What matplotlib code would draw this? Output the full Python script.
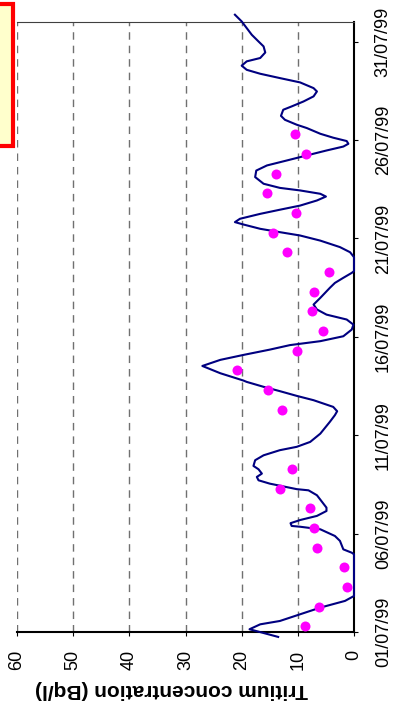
import matplotlib.pyplot as plt
import matplotlib.dates as mdates
from matplotlib.patches import Rectangle
import pandas as pd

plt.rcParams['font.family'] = ['Liberation Sans', 'DejaVu Sans']

# mesures journalieres (prelevement le matin)
sample_day = [1, 2, 3, 4, 5, 6, 7, 8, 9, 12, 13, 14, 15, 16, 17, 18, 19, 20,
              21, 22, 23, 24, 25, 26]
sample_conc = [8.8, 6.2, 1.2, 1.8, 6.5, 7.1, 7.8, 13.2, 11.1, 12.8, 15.4, 20.8,
               10.2, 5.5, 7.5, 7.2, 4.5, 11.9, 14.5, 10.4, 15.5, 13.8, 8.5, 10.5]

# courbe calculee, temps en jours depuis le 01/07/99 00:00
model_t = [-0.25, 0.14, 0.39, 0.56, 0.90, 1.24, 1.58, 1.83, 3.95, 4.03, 4.20,
           4.63, 4.88, 5.22, 5.35, 5.39, 5.53, 5.69, 5.90, 6.15, 6.32, 6.95,
           7.20, 7.26, 7.54, 7.71, 7.88, 8.05, 8.27, 8.44, 8.73, 8.98, 9.24,
           9.41, 9.66, 10.08, 10.68, 11.02, 11.22, 11.44, 11.78, 12.00, 12.24,
           12.46, 12.71, 12.78, 13.15, 13.52, 13.83, 14.08, 14.35, 14.58, 14.78,
           15.03, 15.37, 15.62, 15.88, 16.13, 16.39, 16.64, 16.98, 17.49, 17.74,
           18.00, 18.25, 18.34, 19.05, 19.30, 19.56, 19.89, 20.15, 20.32, 20.49,
           20.71, 20.83, 21.00, 21.25, 21.46, 21.67, 21.93, 22.13, 22.27, 22.44,
           22.57, 22.78, 23.12, 23.45, 23.71, 23.96, 24.22, 24.47, 24.67, 24.81,
           24.95, 25.12, 25.32, 25.61, 25.78, 26.03, 26.23, 26.54, 26.71, 26.96,
           27.22, 27.47, 27.64, 27.93, 28.15, 28.37, 28.57, 28.78, 29.00, 29.17,
           29.45, 29.76, 30.01, 30.35, 30.69, 31.03, 31.37]
model_conc = [13.5, 18.6, 16.7, 13.2, 9.6, 6.0, 1.6, 0.0, 0.0, 0.4, 1.9,
              2.5, 3.4, 6.0, 9.6, 11.1, 11.3, 9.6, 6.6, 4.9, 4.9, 6.6,
              8.1, 10.2, 15.0, 17.0, 17.3, 16.4, 17.0, 17.9, 17.6, 16.1, 13.2,
              10.2, 7.8, 6.0, 4.3, 3.4, 3.0, 3.7, 7.2, 10.2, 13.2,
              16.1, 19.1, 19.7, 23.8, 27.0, 23.8, 19.7, 15.0, 11.4, 6.0,
              1.9, 0.4, 0.1, 1.3, 4.9, 6.6, 7.2, 6.0, 4.3, 3.4,
              1.9, 0.4, 0.0, 0.0, 0.7, 2.5, 6.0, 9.6, 13.2, 16.7,
              19.7, 21.2, 20.3, 16.7, 13.2, 9.6, 6.6, 5.0, 6.0, 9.6,
              13.2, 16.1, 17.6, 17.4, 15.5, 12.0, 8.4, 4.9, 1.9, 1.0,
              1.3, 3.7, 6.0, 8.4, 10.2, 12.3, 13.0, 12.6, 11.1, 9.0,
              7.2, 6.6, 7.2, 9.6, 13.2, 16.7, 19.1, 20.0, 19.1, 16.7,
              15.8, 16.1, 17.0, 18.2, 19.1, 20.0, 21.2]

conc_ticks = [0, 10, 20, 30, 40, 50, 60]
date_ticks = [1, 6, 11, 16, 21, 26, 31]

start = pd.Timestamp('1999-07-01')
sample_time = [start + pd.Timedelta(days=d - 1, hours=7) for d in sample_day]
model_time = start + pd.to_timedelta(model_t, unit='D')

fig = plt.figure(figsize=(3.93, 7.08), dpi=100)
ax = fig.add_axes([17 / 393, 76 / 708, 337 / 393, 610 / 708])

# graphe tourne : concentration en bas (60 -> 0), dates a droite
ax.plot(model_conc, model_time, color='#000080', lw=1.5, clip_on=False, zorder=3)
ax.plot(sample_conc, sample_time, 'o', color='#FF00FF', ms=7.2, mec='none',
        zorder=4)

ax.set_xlim(60, 0)
ax.set_xticks(conc_ticks)
ax.set_ylim(start, pd.Timestamp('1999-08-01'))
ax.set_yticks([start + pd.Timedelta(days=d - 1) for d in date_ticks])
ax.yaxis.set_major_formatter(mdates.DateFormatter('%d/%m/%y'))
ax.yaxis.tick_right()

ax.xaxis.grid(True, color='#707070', lw=1.0, ls=(0, (5.4, 4.3)))
ax.yaxis.grid(False)
ax.set_axisbelow(True)

ax.tick_params(axis='x', labelrotation=90, labelsize=13, length=3, pad=10,
               direction='out')
ax.tick_params(axis='y', labelrotation=90, labelsize=13, length=3, pad=12,
               direction='out')
for lab in ax.get_yticklabels():
    lab.set_va('center')

ax.spines['left'].set_visible(False)
ax.spines['top'].set_color('#404040')
ax.spines['top'].set_linewidth(0.8)
ax.spines['bottom'].set_linewidth(1.5)
ax.spines['right'].set_linewidth(1.5)

fig.text(172 / 393, 1 - 690 / 708, 'Tritium concentration (Bq/l)',
         rotation=180, ha='center', va='center', fontsize=15,
         fontweight='bold')

# encadre rouge (coupe par le bord)
box_bottom = (708 - 145.5) / 708
fig.add_artist(Rectangle((-0.05, box_bottom), 0.05 + 13 / 393, 0.2,
                         transform=fig.transFigure, facecolor='#FFFFCC',
                         edgecolor='red', lw=3, clip_on=False))

fig.savefig('out.png', dpi=100)
